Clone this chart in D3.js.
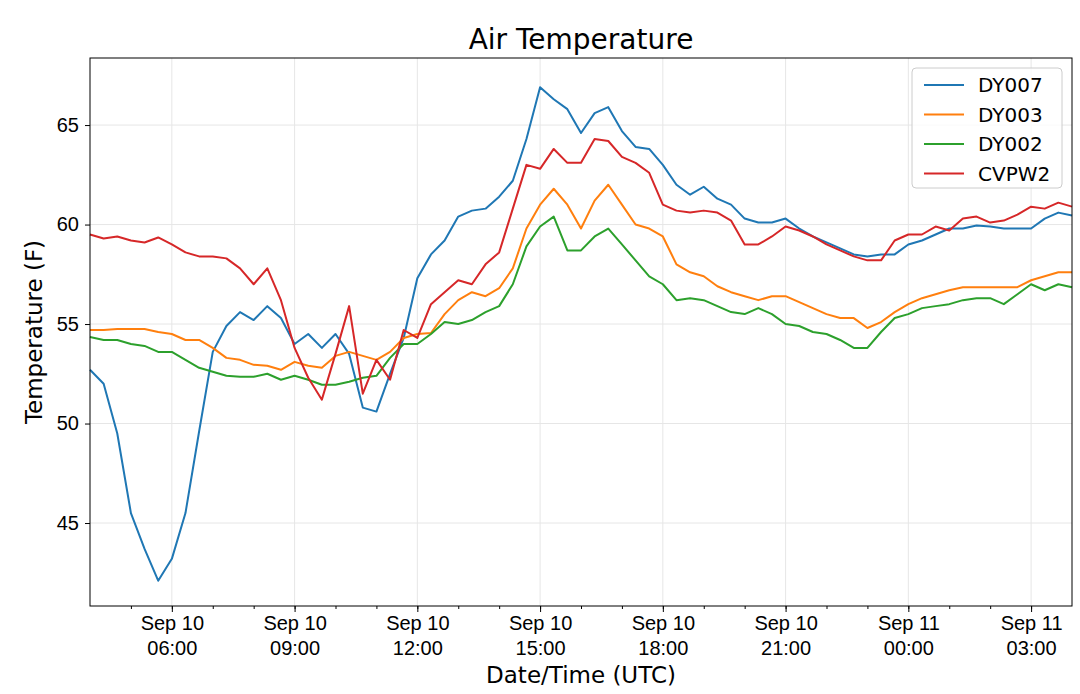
<!DOCTYPE html>
<html lang="en">
<head>
<meta charset="UTF-8">
<title>Air Temperature</title>
<style>
  body { margin: 0; background: #fff; }
  svg { font-family: "DejaVu Sans", sans-serif; }
  .grid line { stroke: #e6e6e6; stroke-width: 1; }
  .line { fill: none; stroke-width: 2; stroke-linejoin: round; }
</style>
</head>
<body>
<svg id="chart" width="1080" height="694"></svg>
<script src="https://d3js.org/d3.v7.min.js"></script>
<script>
// 20-minute samples starting 2018-09-10 04:00 UTC
const start = Date.UTC(2018, 8, 10, 4, 0);
const stepMin = 20;

const dy007 = [52.7, 52.0, 49.5, 45.5, 43.7, 42.1, 43.2, 45.5, 49.6, 53.6, 54.9, 55.6, 55.2, 55.9, 55.3, 54.0,
  54.5, 53.8, 54.5, 53.5, 50.8, 50.6, 52.5, 54.3, 57.3, 58.5, 59.2, 60.4, 60.7, 60.8, 61.4, 62.2,
  64.3, 66.9, 66.3, 65.8, 64.6, 65.6, 65.9, 64.7, 63.9, 63.8, 63.0, 62.0, 61.5, 61.9, 61.3, 61.0,
  60.3, 60.1, 60.1, 60.3, 59.8, 59.4, 59.1, 58.8, 58.5, 58.4, 58.5, 58.5, 59.0, 59.2, 59.5, 59.8,
  59.8, 59.95, 59.9, 59.8, 59.8, 59.8, 60.3, 60.6, 60.45];
const dy003 = [54.7, 54.7, 54.75, 54.75, 54.75, 54.6, 54.5, 54.2, 54.2, 53.8, 53.3, 53.2, 52.95, 52.9, 52.7, 53.1,
  52.9, 52.8, 53.4, 53.6, 53.4, 53.2, 53.6, 54.3, 54.5, 54.55, 55.5, 56.2, 56.6, 56.4, 56.8, 57.8,
  59.8, 61.0, 61.8, 61.0, 59.8, 61.2, 62.0, 61.0, 60.0, 59.8, 59.4, 58.0, 57.6, 57.4, 56.9, 56.6,
  56.4, 56.2, 56.4, 56.4, 56.1, 55.8, 55.5, 55.3, 55.3, 54.8, 55.1, 55.6, 56.0, 56.3, 56.5, 56.7,
  56.85, 56.85, 56.85, 56.85, 56.85, 57.2, 57.4, 57.6, 57.6];
const dy002 = [54.35, 54.2, 54.2, 54.0, 53.9, 53.6, 53.6, 53.2, 52.8, 52.6, 52.4, 52.35, 52.35, 52.5, 52.2, 52.4,
  52.2, 51.95, 51.95, 52.1, 52.3, 52.4, 53.3, 54.0, 54.0, 54.5, 55.1, 55.0, 55.2, 55.6, 55.9, 57.0,
  58.9, 59.9, 60.4, 58.7, 58.7, 59.4, 59.8, 59.0, 58.2, 57.4, 57.0, 56.2, 56.3, 56.2, 55.9, 55.6,
  55.5, 55.8, 55.5, 55.0, 54.9, 54.6, 54.5, 54.2, 53.8, 53.8, 54.6, 55.3, 55.5, 55.8, 55.9, 56.0,
  56.2, 56.3, 56.3, 56.0, 56.5, 57.0, 56.7, 57.0, 56.85];
const cvpw2 = [59.5, 59.3, 59.4, 59.2, 59.1, 59.35, 59.0, 58.6, 58.4, 58.4, 58.3, 57.8, 57.0, 57.8, 56.2, 53.8,
  52.3, 51.2, 53.5, 55.9, 51.5, 53.2, 52.2, 54.7, 54.3, 56.0, 56.6, 57.2, 57.0, 58.0, 58.6, 60.8,
  63.0, 62.8, 63.8, 63.1, 63.1, 64.3, 64.2, 63.4, 63.1, 62.6, 61.0, 60.7, 60.6, 60.7, 60.6, 60.2,
  59.0, 59.0, 59.4, 59.9, 59.7, 59.4, 59.0, 58.7, 58.4, 58.2, 58.2, 59.2, 59.5, 59.5, 59.9, 59.7,
  60.3, 60.4, 60.1, 60.2, 60.5, 60.9, 60.8, 61.1, 60.9];

const seriesNames = ["DY007", "DY003", "DY002", "CVPW2"];
const seriesValues = [dy007, dy003, dy002, cvpw2];
const colors = ["#1f77b4", "#ff7f0e", "#2ca02c", "#d62728"];
const yTicks = [45, 50, 55, 60, 65];

const svg = d3.select("#chart");
const margin = { top: 58, right: 8, bottom: 88, left: 90 };
const width = 1080 - margin.left - margin.right;
const height = 694 - margin.top - margin.bottom;

const times = dy007.map((_, i) => new Date(start + i * stepMin * 60000));
const x = d3.scaleUtc().domain([times[0], times[times.length - 1]]).range([0, width]);
const y = d3.scaleLinear().domain([40.83, 68.37]).range([height, 0]);

const g = svg.append("g").attr("transform", `translate(${margin.left},${margin.top})`);

const majorTicks = d3.utcHour.every(3).range(new Date(start + 3600000), times[times.length - 1]);
const minorTicks = d3.utcHour.every(1).range(new Date(start + 1), times[times.length - 1]);

// grid
g.append("g").attr("class", "grid")
  .selectAll("line").data(yTicks).join("line")
  .attr("x1", 0).attr("x2", width).attr("y1", d => y(d)).attr("y2", d => y(d));
g.append("g").attr("class", "grid")
  .selectAll("line").data(majorTicks).join("line")
  .attr("y1", 0).attr("y2", height).attr("x1", d => x(d)).attr("x2", d => x(d));

// lines
const line = d3.line().x((d, i) => x(times[i])).y(d => y(d));
seriesValues.forEach((vals, k) => {
  g.append("path").attr("class", "line").attr("d", line(vals)).attr("stroke", colors[k]);
});

// frame
g.append("rect").attr("width", width).attr("height", height)
  .attr("fill", "none").attr("stroke", "#000").attr("stroke-width", 1);

// y axis
const yAxis = g.append("g").call(d3.axisLeft(y).tickValues(yTicks).tickSize(5).tickPadding(6));
yAxis.select(".domain").remove();
yAxis.selectAll("text").attr("font-size", 20).attr("fill", "#000");

// x axis: minor then major
const xMinor = g.append("g").attr("transform", `translate(0,${height})`)
  .call(d3.axisBottom(x).tickValues(minorTicks).tickSize(3).tickFormat(""));
xMinor.select(".domain").remove();
const xAxis = g.append("g").attr("transform", `translate(0,${height})`)
  .call(d3.axisBottom(x).tickValues(majorTicks).tickSize(6).tickFormat(""));
xAxis.select(".domain").remove();
xAxis.selectAll(".tick").append("text")
  .attr("text-anchor", "middle").attr("font-size", 20).attr("fill", "#000")
  .selectAll("tspan").data(d => [d3.utcFormat("%b %d")(d), d3.utcFormat("%H:%M")(d)])
  .join("tspan").attr("x", 0).attr("y", (d, i) => 24 + i * 25).text(d => d);

// titles
svg.append("text").attr("x", margin.left + width / 2).attr("y", 49)
  .attr("text-anchor", "middle").attr("font-size", 28).text("Air Temperature");
svg.append("text").attr("x", margin.left + width / 2).attr("y", 683)
  .attr("text-anchor", "middle").attr("font-size", 23).text("Date/Time (UTC)");
svg.append("text").attr("transform", `translate(42,${margin.top + height / 2}) rotate(-90)`)
  .attr("text-anchor", "middle").attr("font-size", 23).text("Temperature (F)");

// legend
const lg = svg.append("g").attr("transform", "translate(912,68)");
lg.append("rect").attr("width", 150).attr("height", 120).attr("rx", 4)
  .attr("fill", "#fff").attr("fill-opacity", 0.8).attr("stroke", "#ccc");
seriesNames.forEach((n, k) => {
  const yy = 17 + k * 29.5;
  lg.append("line").attr("x1", 12).attr("x2", 52).attr("y1", yy).attr("y2", yy)
    .attr("stroke", colors[k]).attr("stroke-width", 2);
  lg.append("text").attr("x", 66).attr("y", yy + 7).attr("font-size", 20).text(n);
});
</script>
</body>
</html>
